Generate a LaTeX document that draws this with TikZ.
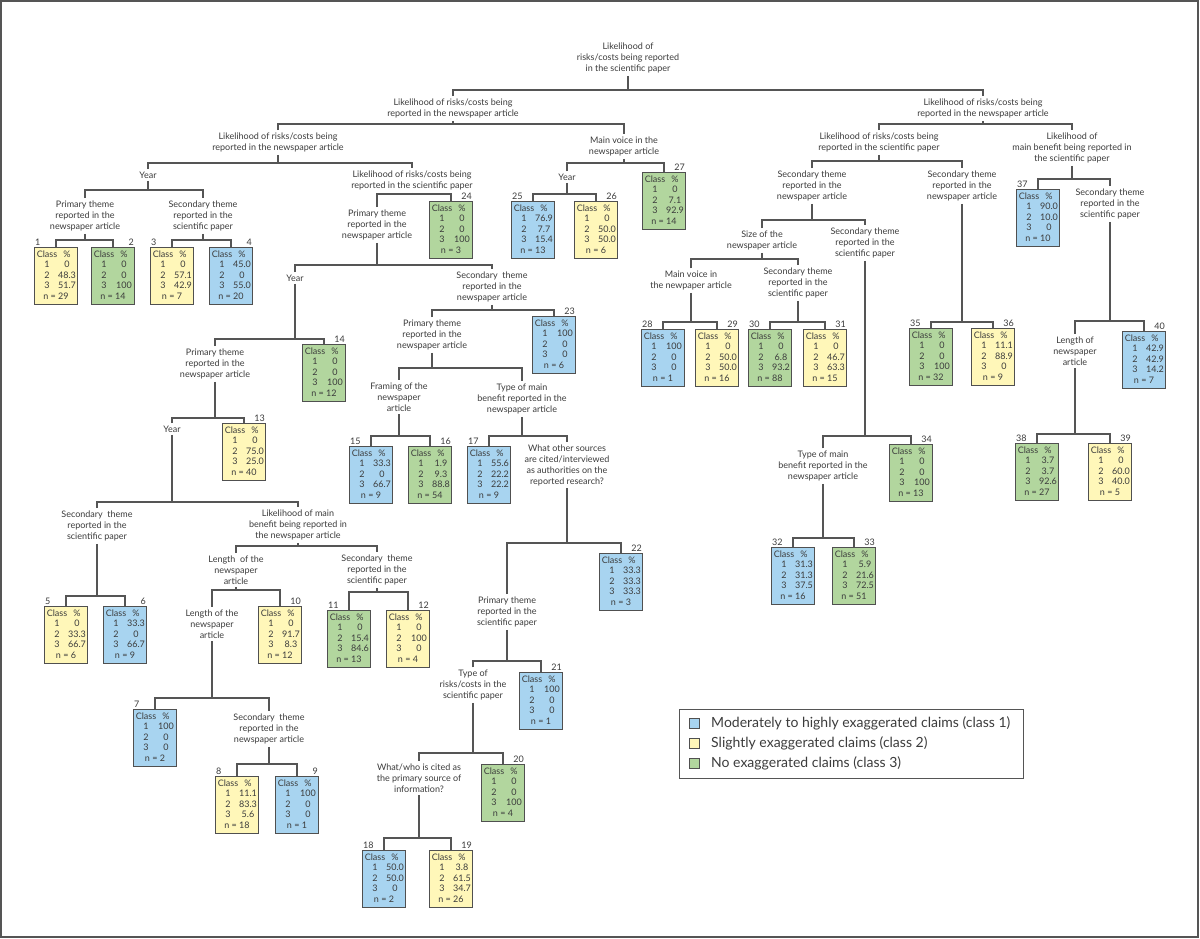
\documentclass[tikz,border=0pt]{standalone}
\usepackage{fontspec}
\setmainfont{Lato}
\usetikzlibrary{calc}
\definecolor{cblu}{RGB}{168,212,240}
\definecolor{cyel}{RGB}{255,247,185}
\definecolor{cgrn}{RGB}{178,214,158}
\definecolor{boxc}{RGB}{80,80,80}
\definecolor{linec}{RGB}{85,85,85}
\definecolor{framec}{RGB}{85,85,85}
\definecolor{txt}{RGB}{60,60,60}
\newcommand{\labfont}{\fontsize{9}{11}\selectfont}
\newcommand{\leaffont}{\fontsize{9}{10.5}\selectfont}
\newcommand{\leaftab}[4]{\begin{tabular}{@{}c@{}c@{}}\makebox[22pt]{Class}&\makebox[18pt]{\%}\\1&#1\\2&#2\\3&#3\\\multicolumn{2}{c}{n = #4}\end{tabular}}
\newcommand{\leaf}[9]{%
  \node[leafbox, fill=#4, anchor=north] (l#1) at (#2,#3) {\leaftab{#5}{#6}{#7}{#8}};
  \node[num, anchor=south #9] (n#1) at (l#1.north #9) {#1};}
\newcommand{\branch}[4]{%
  \path (0,#4) coordinate (barY);
  \draw[tree] (#1.south) -- (#1.south |- barY);
  \draw[tree] (#2.north) -- (#2.north |- barY) -- (#3.north |- barY) -- (#3.north);}
\begin{document}
\begin{tikzpicture}[x=1pt,y=-1pt,
 tree/.style={draw=linec, line width=1.3pt},
 lab/.style={align=center, font=\labfont, text=txt, inner sep=2.5pt},
 leafbox/.style={draw=boxc, line width=1.2pt, minimum width=43pt, minimum height=57pt, inner sep=0pt, font=\leaffont, text=txt},
 num/.style={font=\leaffont, text=txt, inner sep=1pt},
 sw/.style={draw=boxc, line width=0.8pt, minimum width=10pt, minimum height=10pt, inner sep=0pt},
 legtext/.style={font=\fontsize{14}{16}\selectfont, text=txt, inner sep=0pt}]
\path[use as bounding box] (0,0) rectangle (1200,938);
\fill[white] (0,0) rectangle (1200,938);
\draw[framec, line width=2pt] (1,1) rectangle (1198,936.5);

% root
\node[lab] (r0) at (628,58) {Likelihood of\\risks/costs being reported\\in the scientific paper};
\node[lab] (a) at (453,108.5) {Likelihood of risks/costs being\\reported in the newspaper article};
\node[lab] (b) at (983,108.5) {Likelihood of risks/costs being\\reported in the newspaper article};
\branch{r0}{a}{b}{90}

% left big branch
\node[lab] (a1) at (278,142.5) {Likelihood of risks/costs being\\reported in the newspaper article};
\node[lab] (a2) at (624,146.5) {Main voice in the\\newspaper article};
\branch{a}{a1}{a2}{124}
\node[lab] (y1) at (148,175) {Year};
\node[lab] (a1b) at (412,180.5) {Likelihood of risks/costs being\\reported in the scientific paper};
\branch{a1}{y1}{a1b}{163}
\node[lab] (p1) at (85,216) {Primary theme\\reported in the\\newspaper article};
\node[lab] (s1) at (203,216) {Secondary theme\\reported in the\\scientific paper};
\branch{y1}{p1}{s1}{190}
\leaf{1}{56}{247}{cyel}{0}{48.3}{51.7}{29}{west}
\leaf{2}{113}{247}{cgrn}{0}{0}{100}{14}{east}
\branch{p1}{l1}{l2}{240}
\leaf{3}{172}{247}{cyel}{0}{57.1}{42.9}{7}{west}
\leaf{4}{231}{247}{cblu}{45.0}{0}{55.0}{20}{east}
\branch{s1}{l3}{l4}{240}

\node[lab] (p2) at (377,225) {Primary theme\\reported in the\\newspaper article};
\leaf{24}{451}{201}{cgrn}{0}{0}{100}{3}{east}
\branch{a1b}{p2}{l24}{194}
\node[lab] (y2) at (295,278) {Year};
\node[lab] (s2) at (492,287) {Secondary~ theme\\reported in the\\newspaper article};
\branch{p2}{y2}{s2}{265}
\node[lab] (p3) at (215,364) {Primary theme\\reported in the\\newspaper article};
\leaf{14}{324}{344}{cgrn}{0}{0}{100}{12}{east}
\branch{y2}{p3}{l14}{339}
\node[lab] (y3) at (172,429) {Year};
\leaf{13}{244}{423}{cyel}{0}{75.0}{25.0}{40}{east}
\branch{p3}{y3}{l13}{418}
\node[lab] (s3) at (97,526) {Secondary~ theme\\reported in the\\scientific paper};
\node[lab] (m3) at (298,525) {Likelihood of main\\benefit being reported in\\the newspaper article};
\branch{y3}{s3}{m3}{502}
\leaf{5}{66}{606}{cyel}{0}{33.3}{66.7}{6}{west}
\leaf{6}{125}{606}{cblu}{33.3}{0}{66.7}{9}{east}
\branch{s3}{l5}{l6}{596}
\node[lab] (ln1) at (236,570) {Length~ of the\\newspaper\\article};
\node[lab] (s4) at (377,570) {Secondary~ theme\\reported in the\\scientific paper};
\branch{m3}{ln1}{s4}{546}
\node[lab] (ln2) at (212,624) {Length of the\\newspaper\\article};
\leaf{10}{280}{606}{cyel}{0}{91.7}{8.3}{12}{east}
\branch{ln1}{ln2}{l10}{590}
\leaf{7}{155}{709}{cblu}{100}{0}{0}{2}{west}
\node[lab] (s5) at (269,729) {Secondary~ theme\\reported in the\\newspaper article};
\branch{ln2}{l7}{s5}{698}
\leaf{8}{237}{776}{cyel}{11.1}{83.3}{5.6}{18}{west}
\leaf{9}{297}{776}{cblu}{100}{0}{0}{1}{east}
\branch{s5}{l8}{l9}{764}
\leaf{11}{349}{610}{cgrn}{0}{15.4}{84.6}{13}{west}
\leaf{12}{408}{610}{cyel}{0}{100}{0}{4}{east}
\branch{s4}{l11}{l12}{592}

\node[lab] (p4) at (432,335) {Primary theme\\reported in the\\newspaper article};
\leaf{23}{554}{316}{cblu}{100}{0}{0}{6}{east}
\branch{s2}{p4}{l23}{310}
\node[lab] (f1) at (399,397) {Framing of the\\newspaper\\article};
\node[lab] (t1) at (522,399) {Type of main\\benefit reported in the\\newspaper article};
\branch{p4}{f1}{t1}{368}
\leaf{15}{371}{446}{cblu}{33.3}{0}{66.7}{9}{west}
\leaf{16}{430}{446}{cgrn}{1.9}{9.3}{88.8}{54}{east}
\branch{f1}{l15}{l16}{436}
\leaf{17}{489}{446}{cblu}{55.6}{22.2}{22.2}{9}{west}
\node[lab] (w1) at (567,465) {What other sources\\are cited/interviewed\\as authorities on the\\reported research?};
\branch{t1}{l17}{w1}{436}
\node[lab] (p5) at (507,612) {Primary theme\\reported in the\\scientific paper};
\leaf{22}{621}{553}{cblu}{33.3}{33.3}{33.3}{3}{east}
\branch{w1}{p5}{l22}{543}
\node[lab] (t2) at (473,685) {Type of\\risks/costs in the\\scientific paper};
\leaf{21}{541}{672}{cblu}{100}{0}{0}{1}{east}
\branch{p5}{t2}{l21}{661}
\node[lab] (w2) at (419,778) {What/who is cited as\\the primary source of\\information?};
\leaf{20}{503}{764}{cgrn}{0}{0}{100}{4}{east}
\branch{t2}{w2}{l20}{753}
\leaf{18}{384}{850}{cblu}{50.0}{50.0}{0}{2}{west}
\leaf{19}{451}{850}{cyel}{3.8}{61.5}{34.7}{26}{east}
\branch{w2}{l18}{l19}{838}

% main voice
\node[lab] (y4) at (567,177) {Year};
\leaf{27}{664}{172}{cgrn}{0}{7.1}{92.9}{14}{east}
\branch{a2}{y4}{l27}{163}
\leaf{25}{533}{201}{cblu}{76.9}{7.7}{15.4}{13}{west}
\leaf{26}{596}{201}{cyel}{0}{50.0}{50.0}{6}{east}
\branch{y4}{l25}{l26}{194}

% right big branch
\node[lab] (b1) at (879,142.5) {Likelihood of risks/costs being\\reported in the scientific paper};
\node[lab] (b2) at (1072,148) {Likelihood of\\main benefit being reported in\\the scientific paper};
\branch{b}{b1}{b2}{124}
\node[lab] (b1a) at (812,186) {Secondary theme\\reported in the\\newspaper article};
\node[lab] (b1b) at (962,186) {Secondary theme\\reported in the\\newspaper article};
\branch{b1}{b1a}{b1b}{161}
\node[lab] (z1) at (762,240.5) {Size of the\\newspaper article};
\node[lab] (s6) at (865,243) {Secondary theme\\reported in the\\scientific paper};
\branch{b1a}{z1}{s6}{220}
\node[lab] (mv) at (691,280.5) {Main voice in\\the newpaper article};
\node[lab] (s7) at (798,283) {Secondary theme\\reported in the\\scientific paper};
\branch{z1}{mv}{s7}{259}
\leaf{28}{663}{329}{cblu}{100}{0}{0}{1}{west}
\leaf{29}{717}{329}{cyel}{0}{50.0}{50.0}{16}{east}
\branch{mv}{l28}{l29}{322}
\leaf{30}{770}{329}{cgrn}{0}{6.8}{93.2}{88}{west}
\leaf{31}{825}{329}{cyel}{0}{46.7}{63.3}{15}{east}
\branch{s7}{l30}{l31}{322}
\node[lab] (t3) at (823,466) {Type of main\\benefit reported in the\\newspaper article};
\leaf{34}{911}{444}{cgrn}{0}{0}{100}{13}{east}
\branch{s6}{t3}{l34}{436}
\leaf{32}{793}{547}{cblu}{31.3}{31.3}{37.5}{16}{west}
\leaf{33}{854}{547}{cgrn}{5.9}{21.6}{72.5}{51}{east}
\branch{t3}{l32}{l33}{538}
\leaf{35}{931}{328}{cgrn}{0}{0}{100}{32}{west}
\leaf{36}{993}{328}{cyel}{11.1}{88.9}{0}{9}{east}
\branch{b1b}{l35}{l36}{322}
\leaf{37}{1038}{189}{cblu}{90.0}{10.0}{0}{10}{west}
\node[lab] (s8) at (1110,204) {Secondary theme\\reported in the\\scientific paper};
\branch{b2}{l37}{s8}{179}
\node[lab] (ln3) at (1075,351) {Length of\\newspaper\\article};
\leaf{40}{1144}{331}{cblu}{42.9}{42.9}{14.2}{7}{east}
\branch{s8}{ln3}{l40}{321}
\leaf{38}{1037}{443}{cgrn}{3.7}{3.7}{92.6}{27}{west}
\leaf{39}{1110}{443}{cyel}{0}{60.0}{40.0}{5}{east}
\branch{ln3}{l38}{l39}{434}

% legend
\node[draw=framec, line width=0.8pt, minimum width=344pt, minimum height=69pt, inner sep=0pt, anchor=north west] (leg) at (679,709) {};
\node[sw, fill=cblu] (lgs1) at (694,723) {};
\node[sw, fill=cyel] (lgs2) at (694,743) {};
\node[sw, fill=cgrn] (lgs3) at (694,763) {};
\node[legtext, anchor=west] (lgt1) at (711,723) {Moderately to highly exaggerated claims (class 1)};
\node[legtext, anchor=west] (lgt2) at (711,743) {Slightly exaggerated claims (class 2)};
\node[legtext, anchor=west] (lgt3) at (711,763) {No exaggerated claims (class 3)};
\end{tikzpicture}
\end{document}
